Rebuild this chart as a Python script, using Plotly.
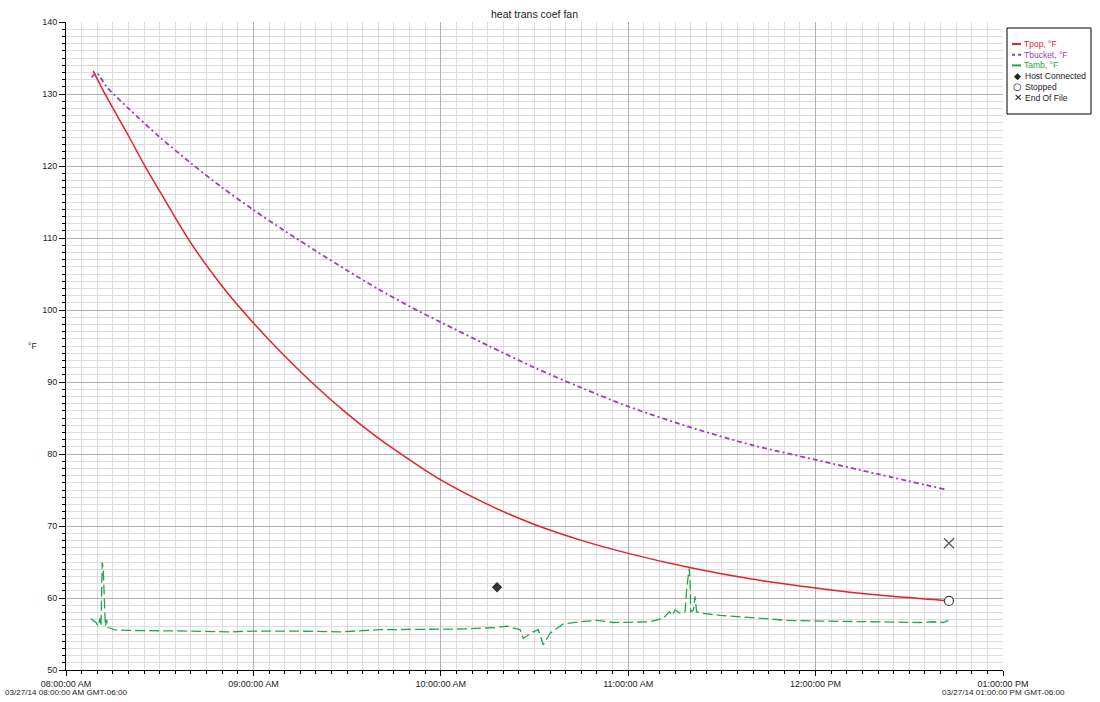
import plotly.graph_objects as go
import pandas as pd

# ---------------- data (minutes after 08:00:00 AM, 03/27/14) ----------------
TITLE = "heat trans coef fan"
Y_TITLE = "°F"

tpop_min = [8.7, 12, 20, 25, 30, 40, 50, 60, 70, 80, 90, 100, 110, 120, 135, 150,
            165, 180, 200, 220, 240, 260, 282.7]
tpop_val = [133.2, 130.4, 124.2, 120.2, 116.5, 109.3, 103.3, 98.2, 93.6, 89.4, 85.6,
            82.2, 79.2, 76.4, 73.0, 70.2, 68.0, 66.2, 64.2, 62.6, 61.4, 60.4, 59.6]

tbucket_min = [8.2, 9.8, 13, 20, 30, 40, 50, 60, 70, 80, 90, 100, 110, 120, 135, 150,
               165, 180, 200, 220, 240, 260, 281.3]
tbucket_val = [132.3, 132.9, 131.0, 128.0, 124.0, 120.4, 117.0, 113.9, 111.0, 108.2,
               105.5, 102.9, 100.5, 98.3, 95.1, 92.0, 89.2, 86.6, 83.7, 81.2, 79.2,
               77.2, 75.1]

tamb_min = [7.9, 8.7, 9.6, 10.3, 10.9, 11.2, 11.6, 11.9, 12.3, 12.6, 13.0, 13.4, 14.3,
            15.2, 20, 30, 40, 52.5, 60, 73.9, 87.7, 100.5, 116.6, 127.2, 137.9, 141.1,
            144.3, 145.4, 146.4, 149.6, 151.2, 152.8, 155, 159.2, 164.6, 169.9, 175.2,
            187, 191.3, 193.2, 194, 195, 196.6, 198.2, 198.7, 199.3, 199.5, 199.8, 200.0,
            200.9, 201.4, 201.9, 203.0, 209.4, 220.1, 230.8, 241.4, 262.8, 273.5, 277.7,
            280.9, 282.5]
tamb_val = [57.1, 56.9, 56.6, 56.1, 57.2, 56.1, 64.9, 64.3, 58.8, 56.1, 57.0, 55.9, 55.8,
            55.6, 55.5, 55.5, 55.4, 55.3, 55.4, 55.4, 55.3, 55.6, 55.7, 55.7, 55.9, 56.1,
            55.7, 55.6, 54.4, 55.3, 55.6, 53.5, 55.1, 56.4, 56.7, 56.9, 56.6,
            56.7, 57.2, 58.1, 57.6, 58.3, 57.9, 58.1, 61.1, 63.0, 64.1, 62.5, 58.1,
            58.3, 60.2, 58.1, 57.9, 57.6, 57.2, 56.9, 56.8, 56.7, 56.6, 56.7,
            56.6, 56.9]

host_connected_min = [138.0]
host_connected_val = [61.5]
stopped_min = [282.7]
stopped_val = [59.6]
end_of_file_min = [282.7]
end_of_file_val = [67.6]

hour_min = [0, 60, 120, 180, 240, 300]
hour_labels = ["08:00:00 AM", "09:00:00 AM", "10:00:00 AM", "11:00:00 AM",
               "12:00:00 PM", "01:00:00 PM"]
date_label_min = [0, 300]
date_labels = ["03/27/14 08:00:00 AM GMT-06:00", "03/27/14 01:00:00 PM GMT-06:00"]

legend_names = ["Tpop, °F", "Tbucket, °F", "Tamb, °F", "Host Connected", "Stopped",
                "End Of File"]

# ---------------- styling ----------------
BASE = pd.Timestamp("2014-03-27 08:00:00")
RED = "#e3222b"
PURPLE = "#a03cb4"
GREEN = "#22a553"
FONT = "Liberation Sans, Arial, sans-serif"
MAJ_GRID = "#b0b0b0"
MIN_GRID = "#dcdcdc"

W, H = 1100, 702
ML, MR, MT, MB = 66, 97, 22, 32
PW = W - ML - MR
PH = H - MT - MB


def ts(mins):
    return [BASE + pd.Timedelta(minutes=m) for m in mins]


def px(x):
    return (x - ML) / PW


def py(y):
    return (H - MB - y) / PH


fig = go.Figure()
fig.add_trace(go.Scatter(x=ts(tpop_min), y=tpop_val, mode="lines", name=legend_names[0],
                         line=dict(color=RED, width=1.5, shape="spline", smoothing=0.8)))
fig.add_trace(go.Scatter(x=ts(tbucket_min), y=tbucket_val, mode="lines", name=legend_names[1],
                         line=dict(color=PURPLE, width=1.8, shape="spline", smoothing=0.8,
                                   dash="5px,3px,2px,3px")))
fig.add_trace(go.Scatter(x=ts(tamb_min), y=tamb_val, mode="lines", name=legend_names[2],
                         line=dict(color=GREEN, width=1.3, dash="10px,4px")))
fig.add_trace(go.Scatter(x=ts(host_connected_min), y=host_connected_val, mode="markers",
                         name=legend_names[3],
                         marker=dict(symbol="diamond", size=8, color="#333333")))
fig.add_trace(go.Scatter(x=ts(stopped_min), y=stopped_val, mode="markers",
                         name=legend_names[4],
                         marker=dict(symbol="circle", size=9, color="white",
                                     line=dict(color="#444444", width=1.2))))
fig.add_trace(go.Scatter(x=ts(end_of_file_min), y=end_of_file_val, mode="markers",
                         name=legend_names[5], cliponaxis=False,
                         marker=dict(symbol="x-thin-open", size=10, color="#555555",
                                     line=dict(color="#555555", width=1.2))))

fig.update_xaxes(
    type="date", range=[BASE, BASE + pd.Timedelta(minutes=300)],
    tickmode="array", tickvals=ts(hour_min), ticktext=hour_labels,
    showgrid=True, gridcolor=MAJ_GRID, gridwidth=1,
    showline=True, linecolor="black", linewidth=1,
    ticks="outside", ticklen=5, tickcolor="black",
    tickfont=dict(family=FONT, size=9, color="#222222"),
    minor=dict(dtick=300000, tick0=BASE, showgrid=True, gridcolor=MIN_GRID,
               ticks="outside", ticklen=3, tickcolor="black"),
    zeroline=False, fixedrange=True, automargin=False, ticklabeloverflow="allow",
)
fig.update_yaxes(
    range=[50, 140], dtick=10, tick0=50,
    showgrid=True, gridcolor=MAJ_GRID, gridwidth=1,
    showline=True, linecolor="black", linewidth=1,
    ticks="outside", ticklen=6, tickcolor="black",
    tickfont=dict(family=FONT, size=9, color="#222222"),
    minor=dict(dtick=1, showgrid=True, gridcolor=MIN_GRID,
               ticks="outside", ticklen=3, tickcolor="black"),
    zeroline=False, fixedrange=True, automargin=False,
)

# ---------------- custom legend box ----------------
shapes = [dict(type="rect", xref="paper", yref="paper",
               x0=px(1007), x1=px(1091), y0=py(114), y1=py(28),
               line=dict(color="black", width=1), fillcolor="white", layer="above")]
rows = [44, 54.7, 65.4, 76.1, 86.8, 97.5]
line_styles = [(RED, "solid"), (PURPLE, "dot"), (GREEN, "dash")]
for r, (col, dsh) in zip(rows[:3], line_styles):
    shapes.append(dict(type="line", xref="paper", yref="paper",
                       x0=px(1012), x1=px(1021), y0=py(r), y1=py(r),
                       line=dict(color=col, width=2, dash=dsh), layer="above"))

annotations = []
text_colors = [RED, PURPLE, GREEN, "#222222", "#222222", "#222222"]
for i, (r, name, col) in enumerate(zip(rows, legend_names, text_colors)):
    xt = 1022 if i < 3 else 1023
    annotations.append(dict(xref="paper", yref="paper", x=px(xt), y=py(r),
                            text=name, showarrow=False, xanchor="left", yanchor="middle",
                            font=dict(family=FONT, size=8.5, color=col)))
for r, sym, sz in zip(rows[3:], ["◆", "○", "✕"], [9, 10, 10]):
    annotations.append(dict(xref="paper", yref="paper", x=px(1017.5), y=py(r),
                            text=sym, showarrow=False, xanchor="center", yanchor="middle",
                            font=dict(family="DejaVu Sans", size=sz, color="#222222")))

# second line of the end tick labels (date + timezone)
for m, lab in zip(date_label_min, date_labels):
    annotations.append(dict(xref="x", yref="paper", x=ts([m])[0], y=py(692),
                            text=lab, showarrow=False, xanchor="center", yanchor="middle",
                            font=dict(family=FONT, size=8.1, color="#222222")))

annotations.append(dict(xref="paper", yref="paper", x=px(32), y=py(346), text=Y_TITLE,
                        showarrow=False, xanchor="center", yanchor="middle",
                        font=dict(family=FONT, size=8.5, color="#222222")))

fig.update_layout(
    width=W, height=H,
    margin=dict(l=ML, r=MR, t=MT, b=MB, pad=0, autoexpand=False),
    paper_bgcolor="white", plot_bgcolor="white",
    title=dict(text=TITLE, x=px(534.5), xref="paper", xanchor="center",
               y=1 - 14 / H, yanchor="middle",
               font=dict(family=FONT, size=10.5, color="#222222")),
    showlegend=False,
    shapes=shapes, annotations=annotations,
    font=dict(family=FONT),
)

fig.write_html("out.html", config={"displayModeBar": False},
               post_script="document.body.style.margin='0';")
